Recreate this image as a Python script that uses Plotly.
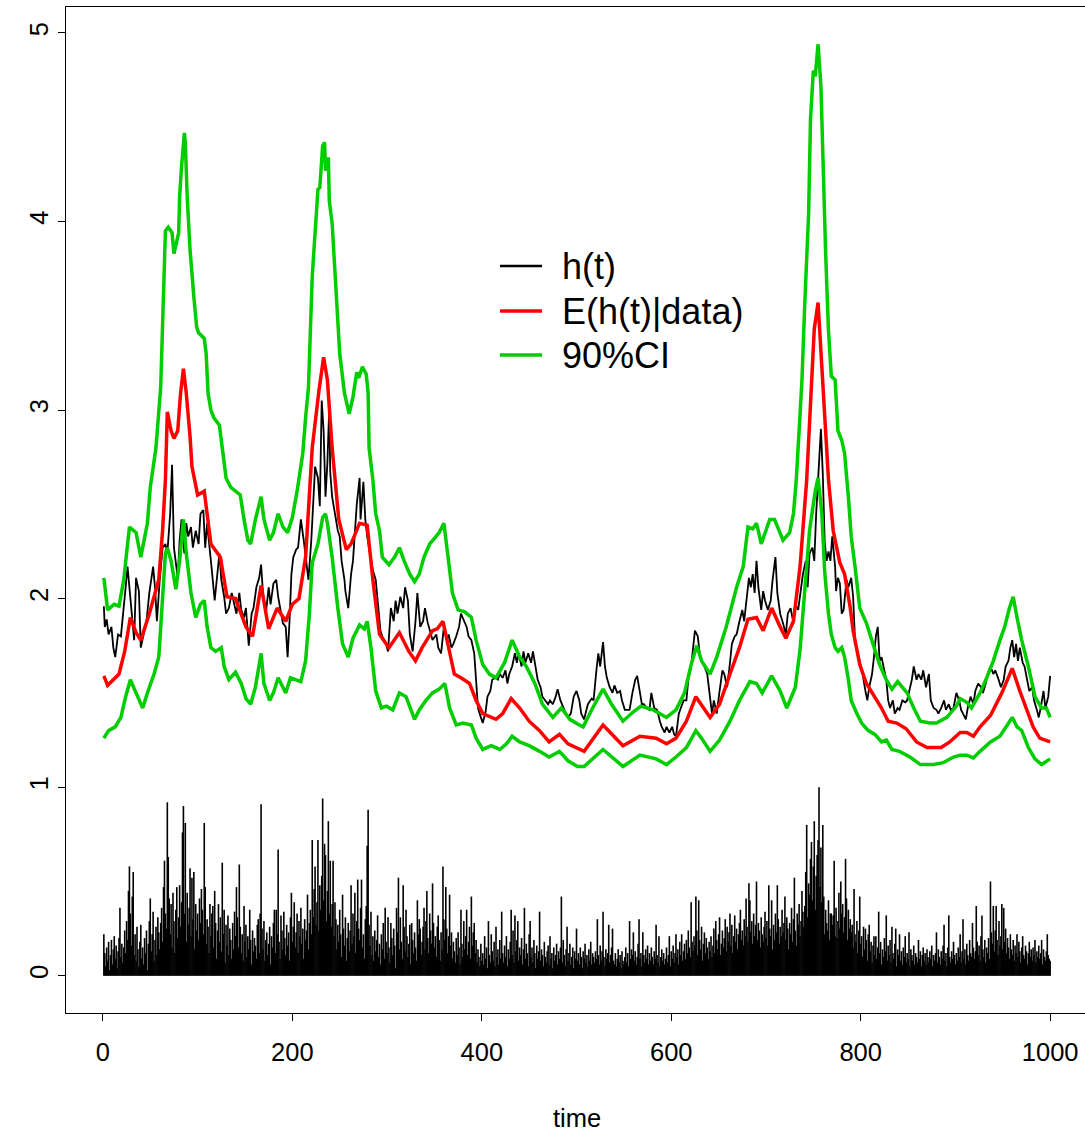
import plotly.graph_objects as go

# ---------------- data ----------------
# |returns| shown as vertical spikes, t = 1..1000
abs_returns = [
0.22,0.12,0.05,0.15,0.08,0.18,0.03,0.11,0.19,0.06,0.14,0.21,0.09,0.16,0.04,0.13,0.20,0.36,0.10,0.17,
0.07,0.15,0.24,0.12,0.29,0.19,0.45,0.58,0.33,0.16,0.42,0.55,0.11,0.22,0.08,0.26,0.14,0.05,0.18,0.27,
0.09,0.15,0.06,0.20,0.12,0.24,0.03,0.17,0.29,0.41,0.13,0.22,0.34,0.08,0.19,0.26,0.11,0.31,0.23,0.14,
0.28,0.36,0.18,0.47,0.61,0.33,0.25,0.92,0.63,0.41,0.22,0.38,0.15,0.44,0.29,0.12,0.35,0.47,0.20,0.31,
0.48,0.26,0.39,0.76,0.90,0.33,0.81,0.18,0.44,0.27,0.36,0.57,0.21,0.52,0.30,0.55,0.14,0.38,0.24,0.33,
0.19,0.41,0.28,0.46,0.35,0.22,0.81,0.47,0.17,0.30,0.26,0.12,0.38,0.21,0.33,0.37,0.15,0.45,0.28,0.09,
0.24,0.38,0.18,0.31,0.13,0.60,0.22,0.35,0.07,0.27,0.16,0.32,0.11,0.25,0.19,0.09,0.28,0.14,0.34,0.21,
0.47,0.31,0.15,0.59,0.26,0.12,0.22,0.08,0.37,0.18,0.27,0.10,0.21,0.14,0.35,0.19,0.06,0.24,0.13,0.20,
0.16,0.09,0.27,0.30,0.12,0.33,0.91,0.25,0.14,0.29,0.08,0.19,0.23,0.11,0.17,0.26,0.06,0.21,0.15,0.28,
0.35,0.12,0.35,0.22,0.67,0.18,0.09,0.32,0.24,0.14,0.34,0.20,0.11,0.27,0.16,0.23,0.08,0.31,0.44,0.18,
0.26,0.39,0.15,0.23,0.33,0.12,0.29,0.21,0.36,0.17,0.25,0.09,0.30,0.19,0.24,0.43,0.14,0.28,0.35,0.22,
0.72,0.31,0.46,0.58,0.27,0.39,0.72,0.24,0.48,0.35,0.53,0.94,0.40,0.70,0.64,0.29,0.45,0.82,0.33,0.61,
0.26,0.38,0.61,0.21,0.39,0.30,0.14,0.27,0.18,0.35,0.22,0.10,0.43,0.25,0.16,0.31,0.08,0.20,0.28,0.13,
0.24,0.48,0.17,0.33,0.21,0.44,0.12,0.29,0.51,0.25,0.19,0.36,0.51,0.15,0.22,0.09,0.30,0.37,0.69,0.88,
0.27,0.16,0.34,0.11,0.21,0.08,0.24,0.13,0.19,0.32,0.10,0.17,0.06,0.22,0.14,0.28,0.09,0.36,0.18,0.12,
0.31,0.15,0.07,0.28,0.20,0.11,0.25,0.16,0.04,0.36,0.23,0.52,0.14,0.31,0.18,0.09,0.48,0.26,0.13,0.35,
0.21,0.10,0.17,0.27,0.06,0.28,0.19,0.12,0.23,0.15,0.08,0.40,0.22,0.30,0.25,0.11,0.18,0.26,0.36,0.14,
0.29,0.45,0.20,0.12,0.33,0.24,0.17,0.49,0.28,0.15,0.21,0.10,0.26,0.32,0.19,0.08,0.23,0.14,0.58,0.30,
0.19,0.47,0.25,0.12,0.21,0.43,0.16,0.23,0.09,0.18,0.13,0.07,0.20,0.11,0.23,0.15,0.06,0.35,0.17,0.10,
0.29,0.14,0.21,0.35,0.11,0.18,0.26,0.09,0.42,0.16,0.23,0.28,0.12,0.19,0.07,0.14,0.10,0.05,0.17,0.08,
0.12,0.06,0.21,0.09,0.15,0.04,0.29,0.11,0.07,0.22,0.13,0.08,0.18,0.05,0.26,0.10,0.14,0.06,0.19,0.09,
0.34,0.12,0.07,0.16,0.10,0.21,0.05,0.14,0.09,0.18,0.35,0.11,0.24,0.07,0.32,0.13,0.19,0.29,0.08,0.15,
0.11,0.20,0.06,0.14,0.36,0.09,0.17,0.12,0.05,0.22,0.29,0.10,0.15,0.07,0.19,0.12,0.04,0.16,0.09,0.13,
0.34,0.08,0.14,0.11,0.05,0.18,0.10,0.07,0.13,0.16,0.06,0.21,0.09,0.12,0.04,0.15,0.08,0.11,0.17,0.06,
0.13,0.09,0.15,0.42,0.07,0.19,0.11,0.05,0.14,0.26,0.08,0.12,0.17,0.06,0.10,0.15,0.04,0.13,0.09,0.25,
0.08,0.12,0.06,0.15,0.10,0.04,0.13,0.09,0.17,0.07,0.11,0.05,0.14,0.08,0.18,0.06,0.12,0.10,0.07,0.13,
0.09,0.30,0.11,0.06,0.16,0.08,0.13,0.34,0.10,0.05,0.14,0.09,0.12,0.27,0.07,0.11,0.15,0.25,0.08,0.06,
0.12,0.05,0.09,0.14,0.07,0.11,0.04,0.13,0.08,0.06,0.10,0.15,0.07,0.12,0.05,0.29,0.09,0.14,0.11,0.23,
0.08,0.13,0.06,0.10,0.17,0.30,0.09,0.12,0.05,0.23,0.11,0.07,0.14,0.09,0.16,0.06,0.12,0.08,0.15,0.10,
0.06,0.13,0.09,0.27,0.11,0.07,0.21,0.05,0.10,0.14,0.08,0.12,0.06,0.09,0.15,0.07,0.11,0.21,0.05,0.13,
0.09,0.16,0.07,0.12,0.22,0.10,0.14,0.06,0.18,0.11,0.22,0.08,0.13,0.17,0.09,0.19,0.12,0.24,0.15,0.10,
0.39,0.18,0.13,0.21,0.16,0.42,0.24,0.11,0.40,0.19,0.14,0.26,0.08,0.17,0.23,0.12,0.20,0.15,0.09,0.18,
0.13,0.21,0.10,0.16,0.25,0.12,0.29,0.19,0.14,0.22,0.31,0.11,0.17,0.24,0.15,0.20,0.30,0.13,0.26,0.18,
0.23,0.33,0.16,0.27,0.12,0.21,0.32,0.18,0.25,0.14,0.22,0.28,0.35,0.19,0.24,0.16,0.30,0.21,0.41,0.26,
0.18,0.49,0.40,0.23,0.29,0.17,0.33,0.21,0.27,0.50,0.19,0.28,0.24,0.15,0.31,0.22,0.18,0.26,0.34,0.20,
0.29,0.16,0.48,0.25,0.21,0.40,0.14,0.27,0.19,0.33,0.23,0.48,0.30,0.17,0.26,0.21,0.35,0.23,0.28,0.42,
0.19,0.31,0.25,0.14,0.28,0.22,0.36,0.18,0.30,0.52,0.24,0.16,0.33,0.27,0.38,0.21,0.29,0.45,0.34,0.26,
0.37,0.55,0.80,0.31,0.49,0.43,0.62,0.71,0.40,0.58,0.82,0.35,0.53,0.64,0.72,1.00,0.47,0.68,0.39,0.80,
0.42,0.22,0.35,0.28,0.24,0.40,0.19,0.33,0.33,0.27,0.32,0.61,0.21,0.36,0.20,0.29,0.44,0.25,0.50,0.33,
0.38,0.23,0.31,0.62,0.41,0.19,0.35,0.25,0.30,0.23,0.27,0.15,0.46,0.22,0.18,0.29,0.12,0.24,0.42,0.17,
0.21,0.10,0.26,0.14,0.25,0.19,0.08,0.22,0.27,0.13,0.18,0.07,0.16,0.21,0.11,0.21,0.09,0.15,0.34,0.12,
0.18,0.06,0.14,0.10,0.20,0.13,0.32,0.08,0.16,0.11,0.19,0.07,0.26,0.12,0.09,0.17,0.25,0.05,0.14,0.11,
0.22,0.08,0.13,0.06,0.15,0.10,0.21,0.07,0.12,0.09,0.23,0.05,0.14,0.11,0.08,0.16,0.06,0.12,0.10,0.07,
0.19,0.09,0.13,0.05,0.11,0.15,0.08,0.12,0.06,0.14,0.10,0.07,0.13,0.09,0.16,0.05,0.11,0.08,0.12,0.23,
0.07,0.14,0.10,0.06,0.13,0.09,0.16,0.27,0.08,0.12,0.05,0.15,0.32,0.10,0.07,0.13,0.09,0.18,0.11,0.06,
0.12,0.08,0.15,0.10,0.22,0.07,0.13,0.30,0.09,0.14,0.06,0.17,0.11,0.08,0.19,0.12,0.10,0.28,0.15,0.09,
0.13,0.37,0.18,0.11,0.16,0.08,0.21,0.32,0.14,0.10,0.19,0.07,0.15,0.12,0.20,0.09,0.50,0.23,0.17,0.37,
0.13,0.24,0.37,0.19,0.11,0.29,0.16,0.21,0.38,0.14,0.36,0.18,0.25,0.12,0.20,0.15,0.09,0.22,0.14,0.11,
0.19,0.08,0.16,0.12,0.22,0.10,0.18,0.13,0.07,0.15,0.21,0.11,0.09,0.16,0.13,0.06,0.12,0.18,0.10,0.14,
0.08,0.15,0.11,0.19,0.07,0.13,0.10,0.16,0.09,0.12,0.19,0.06,0.14,0.10,0.08,0.13,0.22,0.11,0.09,0.08,
]
spike_time = list(range(1, len(abs_returns) + 1))

# true log-volatility h(t)
h_time = [1,2,4,6,9,11,13,16,19,21,24,26,29,31,33,35,38,40,43,46,49,53,55,57,60,63,66,68,71,73,75,79,81,83,86,88,90,93,95,98,
101,103,106,108,110,113,115,118,120,123,125,128,130,133,136,138,141,144,146,149,151,154,157,159,162,165,167,169,172,175,177,180,183,185,188,190,193,195,197,199,
201,204,206,209,212,214,217,220,222,224,227,229,231,233,235,237,239,240,242,245,248,250,252,255,256,259,262,264,266,268,271,272,275,277,279,282,285,288,290,293,295,299,
301,304,307,309,311,314,317,319,322,324,327,330,332,335,338,340,343,346,348,352,354,357,360,363,365,368,370,373,376,378,381,384,386,389,392,394,396,399,
401,404,406,409,411,414,417,419,422,425,427,429,432,435,437,439,442,444,446,449,452,454,457,459,462,464,467,470,472,475,478,480,483,486,488,491,494,497,500,
503,505,508,512,516,518,521,523,525,528,530,532,535,538,540,543,546,548,551,554,556,559,562,564,566,569,571,574,577,579,582,585,588,590,593,595,598,
601,603,605,608,610,613,616,618,621,623,625,628,630,632,635,638,640,643,645,648,651,654,656,659,662,664,667,669,672,675,677,680,682,684,686,688,690,692,695,697,699,
702,705,707,710,712,715,718,721,723,726,729,731,734,736,739,742,744,746,749,751,753,756,758,760,762,764,766,768,770,773,774,776,778,780,782,785,787,790,792,794,797,799,
802,805,807,809,812,814,816,818,820,822,824,827,829,831,834,836,839,841,844,847,849,851,854,856,859,861,864,866,869,872,874,877,880,882,885,888,890,893,895,898,
901,904,906,908,911,913,916,919,921,924,927,929,932,934,937,940,942,945,948,951,953,956,958,960,962,964,966,968,971,973,976,978,981,983,986,988,990,993,995,998,1000]
h_value = [1.96,1.85,1.89,1.81,1.85,1.74,1.69,1.81,1.80,1.92,2.06,2.17,2.01,1.88,1.78,2.11,2.04,1.74,1.81,1.88,2.03,2.17,2.06,1.88,2.10,2.27,2.29,2.24,2.45,2.71,2.27,2.11,2.31,2.42,2.24,2.40,2.33,2.38,2.27,2.36,
2.29,2.45,2.47,2.27,2.40,2.27,2.15,1.99,2.10,2.24,2.10,2.01,1.92,1.95,2.03,1.99,1.92,2.03,1.94,1.90,1.95,1.75,1.92,1.95,2.06,2.11,2.18,2.03,1.92,2.06,1.97,2.08,2.10,2.01,1.92,1.87,1.85,1.69,1.88,2.13,
2.22,2.26,2.27,2.42,2.31,2.22,2.10,2.31,2.49,2.70,2.64,2.49,3.05,2.89,2.54,2.72,3.02,2.67,2.54,2.45,2.36,2.33,2.20,2.10,2.04,1.95,2.13,2.20,2.36,2.50,2.64,2.42,2.62,2.42,2.33,2.24,2.15,2.10,1.99,1.83,1.80,1.76,
1.72,1.95,1.88,1.99,1.92,2.01,1.95,2.06,1.99,1.81,1.72,1.88,2.03,1.85,1.88,1.95,1.87,1.81,1.78,1.81,1.74,1.71,1.85,1.78,1.81,1.74,1.76,1.80,1.85,1.92,1.88,1.85,1.80,1.78,1.71,1.57,1.42,1.37,
1.34,1.40,1.48,1.51,1.57,1.58,1.57,1.60,1.58,1.62,1.55,1.60,1.64,1.71,1.66,1.71,1.64,1.72,1.66,1.71,1.66,1.72,1.64,1.57,1.53,1.48,1.46,1.44,1.46,1.44,1.48,1.52,1.46,1.42,1.40,1.37,1.39,1.48,1.51,
1.46,1.39,1.36,1.44,1.47,1.46,1.62,1.71,1.64,1.77,1.64,1.58,1.53,1.50,1.54,1.50,1.51,1.46,1.41,1.41,1.41,1.50,1.57,1.59,1.53,1.44,1.44,1.42,1.41,1.50,1.42,1.41,1.35,1.32,1.29,1.32,1.29,
1.32,1.28,1.27,1.39,1.42,1.46,1.46,1.57,1.64,1.74,1.83,1.80,1.71,1.67,1.64,1.60,1.50,1.39,1.46,1.39,1.51,1.62,1.60,1.53,1.66,1.76,1.80,1.81,1.88,1.94,1.88,2.01,2.11,2.06,2.13,2.03,2.20,2.06,1.94,2.04,1.99,
1.94,1.99,2.10,2.22,2.03,1.92,1.87,1.81,1.92,1.95,1.87,1.97,1.94,2.01,2.13,2.20,2.06,2.24,2.27,2.20,2.45,2.72,2.90,2.66,2.30,2.20,2.25,2.20,2.33,2.17,2.04,2.11,2.08,1.92,1.94,2.10,2.06,2.11,2.01,1.78,1.71,1.66,
1.60,1.51,1.46,1.53,1.60,1.69,1.80,1.85,1.67,1.69,1.64,1.57,1.46,1.42,1.46,1.39,1.42,1.41,1.46,1.45,1.46,1.50,1.57,1.64,1.57,1.60,1.57,1.62,1.53,1.60,1.46,1.42,1.41,1.39,1.42,1.46,1.41,1.44,1.41,1.42,
1.50,1.46,1.41,1.39,1.36,1.42,1.48,1.44,1.51,1.55,1.53,1.50,1.55,1.60,1.64,1.60,1.62,1.58,1.53,1.57,1.64,1.67,1.74,1.78,1.69,1.76,1.67,1.74,1.66,1.64,1.55,1.51,1.53,1.46,1.41,1.37,1.42,1.51,1.42,1.48,1.59]

# posterior mean E(h(t)|data)
mean_time = [1,5,17,23,29,35,40,49,59,63,66,68,72,75,79,82,85,88,92,94,100,107,114,124,131,140,151,158,167,175,184,193,200,207,214,221,228,233,237,242,249,257,262,271,279,285,292,302,313,323,330,337,348,353,359,364,371,378,387,394,
401,415,422,431,440,450,461,471,482,491,503,508,528,549,567,584,595,605,616,626,641,651,662,672,681,690,697,706,715,721,729,736,743,748,751,755,760,766,771,778,783,789,792,799,806,815,822,829,838,848,859,870,885,894,905,912,919,926,937,949,956,960,968,975,982,989,1000]
mean_value = [1.59,1.54,1.60,1.72,1.90,1.82,1.78,1.92,2.10,2.36,2.63,2.99,2.89,2.85,2.89,3.09,3.22,3.09,2.86,2.70,2.55,2.57,2.29,2.22,2.01,2.00,1.85,1.80,2.07,1.84,1.95,1.88,1.97,2.00,2.22,2.80,3.10,3.28,3.16,2.80,2.42,2.26,2.29,2.40,2.39,2.10,1.81,1.74,1.82,1.72,1.67,1.74,1.83,1.84,1.88,1.76,1.60,1.58,1.55,1.46,
1.39,1.36,1.39,1.47,1.42,1.35,1.30,1.24,1.28,1.23,1.20,1.19,1.33,1.22,1.27,1.26,1.23,1.26,1.35,1.48,1.37,1.44,1.60,1.74,1.89,1.90,1.83,1.95,1.85,1.79,1.88,2.17,2.63,3.16,3.43,3.57,3.16,2.63,2.36,2.19,2.13,1.95,1.83,1.65,1.55,1.48,1.42,1.35,1.34,1.31,1.24,1.21,1.21,1.24,1.29,1.29,1.27,1.32,1.38,1.50,1.58,1.63,1.51,1.42,1.32,1.26,1.24]

# 90% credible interval, upper bound
upper_time = [1,5,12,17,22,28,35,40,47,50,56,61,66,69,73,75,80,81,83,86,87,89,92,94,96,99,101,107,109,111,114,117,123,126,130,135,140,145,149,153,156,161,167,170,176,180,185,190,195,200,205,211,214,217,221,227,229,232,234,235,238,239,242,244,250,255,260,264,268,270,274,278,280,281,285,288,292,295,
302,308,313,318,324,329,334,339,345,350,355,360,364,369,375,382,389,394,401,408,415,424,432,440,447,456,464,475,484,493,503,507,517,528,537,549,560,568,581,595,605,614,621,627,632,641,648,658,669,676,681,686,690,695,704,709,718,725,729,732,736,738,741,745,747,750,752,755,758,760,763,766,769,773,776,780,783,787,790,794,799,
806,813,820,827,833,839,849,856,863,873,880,891,901,905,912,917,926,933,940,947,952,957,961,965,970,977,984,991,996,1000]
upper_value = [2.11,1.94,1.97,1.96,2.10,2.38,2.35,2.22,2.40,2.59,2.80,3.12,3.95,3.97,3.94,3.83,3.94,4.13,4.29,4.47,4.42,4.13,3.85,3.69,3.60,3.44,3.41,3.38,3.30,3.09,3.00,2.96,2.92,2.80,2.64,2.59,2.57,2.55,2.42,2.31,2.29,2.42,2.54,2.42,2.31,2.35,2.45,2.38,2.35,2.43,2.57,2.77,2.96,3.12,3.71,4.17,4.18,4.40,4.42,4.27,4.34,4.11,3.99,3.80,3.30,3.09,2.98,3.07,3.20,3.17,3.23,3.19,3.09,2.80,2.63,2.45,2.36,2.22,
2.18,2.22,2.27,2.20,2.13,2.09,2.13,2.22,2.29,2.32,2.35,2.40,2.22,2.03,1.94,1.93,1.90,1.78,1.65,1.60,1.58,1.66,1.78,1.69,1.64,1.55,1.44,1.37,1.42,1.36,1.33,1.32,1.42,1.52,1.44,1.35,1.40,1.43,1.41,1.37,1.41,1.50,1.65,1.75,1.67,1.60,1.69,1.85,2.06,2.17,2.38,2.37,2.40,2.29,2.42,2.42,2.31,2.35,2.45,2.63,2.98,3.16,3.57,4.04,4.54,4.80,4.77,4.94,4.72,4.33,3.83,3.42,3.18,3.16,2.89,2.84,2.77,2.54,2.33,2.17,1.95,
1.87,1.76,1.65,1.57,1.52,1.56,1.50,1.42,1.35,1.34,1.34,1.37,1.43,1.47,1.45,1.42,1.50,1.58,1.67,1.78,1.85,1.95,2.01,1.90,1.78,1.64,1.48,1.42,1.42,1.37]

# 90% credible interval, lower bound
lower_time = [1,6,13,19,24,29,35,42,47,54,59,63,66,68,72,77,81,85,88,93,98,103,107,110,114,119,125,128,133,140,146,151,156,161,167,170,176,180,185,190,193,198,204,209,214,218,221,227,232,235,237,242,248,253,259,264,271,276,279,283,288,294,299,
306,313,320,329,334,341,348,355,361,366,373,380,389,394,401,410,419,426,432,440,450,461,471,482,491,501,508,528,549,567,584,595,605,616,626,632,641,651,662,672,683,690,696,706,715,722,731,736,741,746,752,755,759,762,766,769,773,776,780,783,787,790,796,
801,808,815,822,827,833,841,852,863,877,887,898,905,912,919,926,937,947,954,960,965,970,977,984,991,1000]
lower_value = [1.26,1.30,1.32,1.37,1.48,1.57,1.50,1.42,1.50,1.60,1.69,2.01,2.24,2.27,2.20,2.05,2.20,2.42,2.24,2.03,1.90,1.97,1.99,1.85,1.74,1.72,1.74,1.64,1.57,1.61,1.55,1.47,1.44,1.53,1.71,1.55,1.46,1.50,1.58,1.53,1.50,1.58,1.57,1.56,1.67,1.92,2.19,2.29,2.43,2.45,2.40,2.22,1.95,1.76,1.69,1.79,1.86,1.84,1.88,1.74,1.51,1.42,1.43,
1.41,1.50,1.48,1.36,1.41,1.46,1.50,1.52,1.55,1.42,1.33,1.34,1.33,1.26,1.20,1.22,1.20,1.23,1.27,1.24,1.22,1.19,1.16,1.19,1.14,1.11,1.11,1.20,1.11,1.17,1.15,1.12,1.16,1.21,1.30,1.26,1.19,1.25,1.35,1.46,1.56,1.55,1.50,1.59,1.51,1.42,1.53,1.73,2.06,2.36,2.57,2.64,2.45,2.14,1.92,1.81,1.74,1.72,1.74,1.69,1.57,1.46,1.39,
1.34,1.30,1.28,1.24,1.25,1.20,1.19,1.16,1.12,1.12,1.13,1.16,1.17,1.17,1.155,1.19,1.24,1.27,1.32,1.37,1.32,1.30,1.21,1.15,1.12,1.15]

x_ticks = [0, 200, 400, 600, 800, 1000]
y_ticks = [0, 1, 2, 3, 4, 5]
legend_labels = ["h(t)", "E(h(t)|data)", "90%CI"]
legend_colors = ["black", "#ff0000", "#00cd00"]
x_title = "time"

# ---------------- figure ----------------
FONT = "Liberation Sans, Arial, Helvetica, sans-serif"
PLOT_L, PLOT_W, PLOT_B, PLOT_H = 66, 1019, 1013, 1006


def px_to_paper(px, py):
    return (px - PLOT_L) / PLOT_W, (PLOT_B - py) / PLOT_H


spike_x, spike_y = [], []
for t, v in zip(spike_time, abs_returns):
    spike_x += [t, t, None]
    spike_y += [0, v, None]

fig = go.Figure()
fig.add_trace(go.Scatter(x=spike_x, y=spike_y, mode="lines",
                         line=dict(color="black", width=1.6), showlegend=False, hoverinfo="skip"))
fig.add_trace(go.Scatter(x=h_time, y=h_value, mode="lines", name=legend_labels[0],
                         line=dict(color="black", width=1.8), showlegend=False))
fig.add_trace(go.Scatter(x=mean_time, y=mean_value, mode="lines", name=legend_labels[1],
                         line=dict(color="#ff0000", width=3.5), showlegend=False))
fig.add_trace(go.Scatter(x=upper_time, y=upper_value, mode="lines", name=legend_labels[2],
                         line=dict(color="#00cd00", width=3.5), showlegend=False))
fig.add_trace(go.Scatter(x=lower_time, y=lower_value, mode="lines", showlegend=False,
                         line=dict(color="#00cd00", width=3.5)))

# legend key (drawn like R's legend(), no box)
shapes, annotations = [], []
legend_rows_px = [266, 311, 355]
for label, color, row in zip(legend_labels, legend_colors, legend_rows_px):
    x0, y0 = px_to_paper(500, row)
    x1, _ = px_to_paper(542, row)
    shapes.append(dict(type="line", xref="paper", yref="paper", x0=x0, x1=x1, y0=y0, y1=y0,
                       line=dict(color=color, width=3.5 if color != "black" else 2.5)))
    tx, _ = px_to_paper(560, row)
    annotations.append(dict(text=label, xref="paper", yref="paper", x=tx, y=y0,
                            xanchor="left", yanchor="middle", showarrow=False,
                            font=dict(family=FONT, size=36, color="black")))

annotations.append(dict(text=x_title, xref="paper", yref="paper", x=(577 - PLOT_L) / PLOT_W, y=0,
                        xanchor="center", yanchor="middle", yshift=-105, showarrow=False,
                        font=dict(family=FONT, size=25.5, color="black")))

fig.update_layout(
    width=1085, height=1133,
    margin=dict(l=66, r=0, t=7, b=120),
    paper_bgcolor="white", plot_bgcolor="white",
    font=dict(family=FONT, color="black", size=25.5),
    showlegend=False,
    xaxis=dict(range=[-38.96, 1036.8], tickvals=x_ticks, ticktext=[str(v) for v in x_ticks],
               showgrid=False, zeroline=False, showline=True, mirror=True,
               linecolor="black", linewidth=1.3, ticks="outside", ticklen=7,
               tickcolor="black", tickwidth=1.3, ticklabelstandoff=9,
               tickfont=dict(family=FONT, size=25.5, color="black")),
    yaxis=dict(range=[-0.1976, 5.1376], tickvals=y_ticks, ticktext=[str(v) for v in y_ticks],
               showgrid=False, zeroline=False, showline=True, mirror=False,
               linecolor="black", linewidth=1.3, ticks="outside", ticklen=7,
               tickcolor="black", tickwidth=1.3, tickangle=-90, ticklabelstandoff=0,
               tickfont=dict(family=FONT, size=25.5, color="black")),
    shapes=shapes,
    annotations=annotations,
)

fig.write_html("out.html")
